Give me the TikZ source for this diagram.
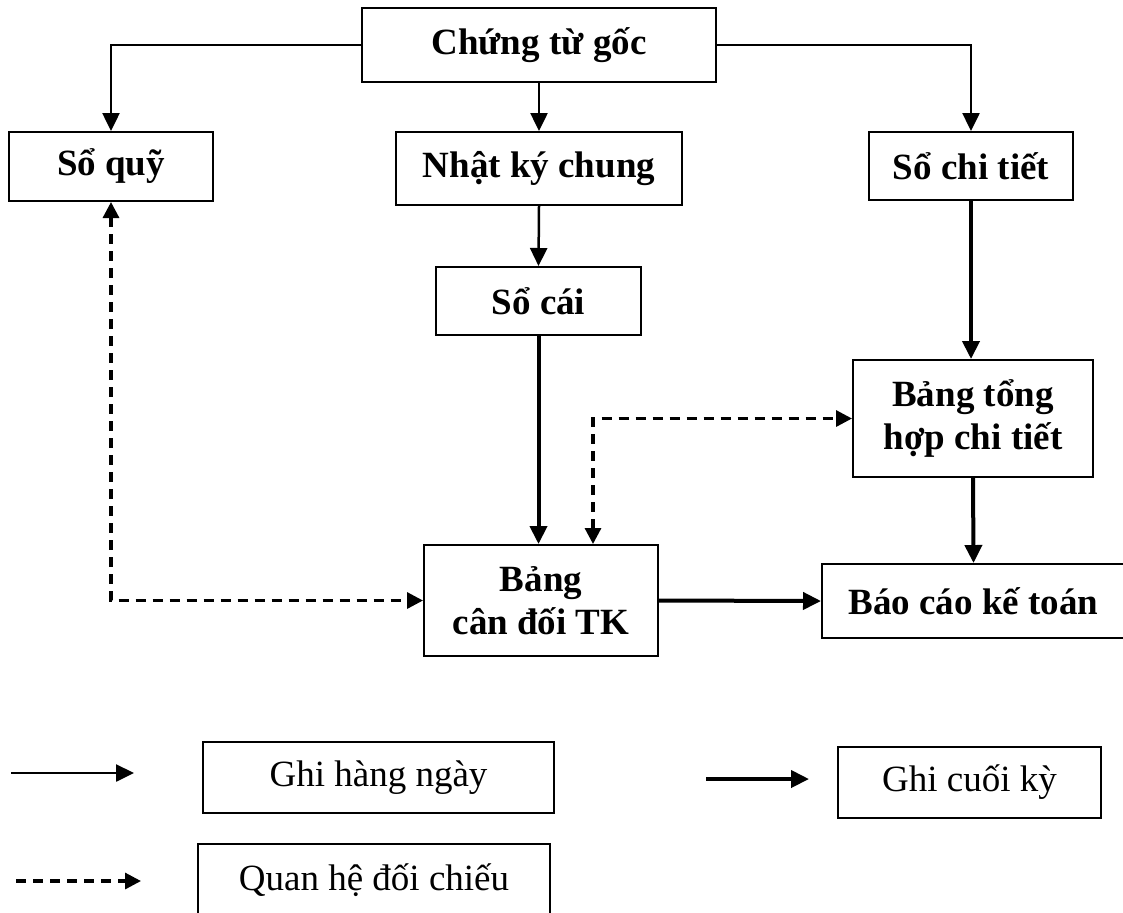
\documentclass[tikz,border=0pt]{standalone}
\usepackage{fontspec}
\setmainfont{Liberation Serif}
\usetikzlibrary{arrows.meta, positioning, calc}

\tikzset{
  box/.style={draw, line width=1pt, inner sep=0pt, align=center,
    font=\fontsize{18.5}{21.5}\selectfont\bfseries},
  keybox/.style={draw, line width=0.6pt, inner sep=0pt,
    font=\fontsize{18.5}{21.5}\selectfont},
  daily/.style={line width=1.25pt, -{Triangle[length=9pt, width=8.5pt]}},
  final/.style={line width=2pt, -{Triangle[length=9pt, width=8.5pt]}},
  check/.style={line width=1.6pt, dash pattern=on 5pt off 3.5pt,
    {Triangle[length=8pt, width=8pt]}-{Triangle[length=8pt, width=8pt]}},
}

\begin{document}
\begin{tikzpicture}[x=0.5pt, y=-0.5pt]
  \useasboundingbox (0,0) rectangle (1123,912);
  \clip (0,0) rectangle (1123,912);

  % Books
  \node[box, minimum width=177pt, minimum height=37pt] (goc) at (539,45) {Chứng từ gốc};
  \node[box, minimum width=102pt, minimum height=34.5pt] (quy) at (111,166.5) {Sổ quỹ};
  \node[box, minimum width=143pt, minimum height=36.5pt] (nkc) at (539,168.5) {Nhật ký chung};
  \node[box, minimum width=102pt, minimum height=34pt] (sct) at (971,166) {Sổ chi tiết};
  \node[box, minimum width=102.5pt, minimum height=34pt] (cai) at (538.5,301) {Sổ cái};
  \node[box, minimum width=120pt, minimum height=58.5pt] (bth) at (973,418.5) {Bảng tổng\\hợp chi tiết};
  \node[box, minimum width=117pt, minimum height=55.5pt] (bcd) at (541,600.5) {Bảng\\cân đối TK};
  \node[box, minimum width=151.5pt, minimum height=37pt] (bckt) at (973.5,601) {Báo cáo kế toán};

  % Daily entries
  \draw[daily] (goc.west) -| (quy.north);
  \draw[daily] (goc.south) -- (nkc.north);
  \draw[daily] (goc.east) -| (sct.north);
  \draw[daily] (nkc.south) -- (cai.north);

  % End of period
  \draw[final] (cai.south) -- (cai.south |- bcd.north);
  \draw[final] (sct.south) -- (sct.south |- bth.north);
  \draw[final] (bth.south) -- (bckt.north);
  \draw[final] (bcd.east) -- (bckt.west);

  % Cross checks
  \draw[check] (quy.south) |- (bcd.west);
  \draw[check] ([xshift=26pt]bcd.north) |- (bth.west);

  % Legend
  \coordinate (k1a) at (11,773);
  \coordinate (k1b) at (134,773);
  \coordinate (k2a) at (706,779);
  \coordinate (k2b) at (809,779);
  \coordinate (k3a) at (16,881);
  \coordinate (k3b) at (141,881);
  \draw[daily] (k1a) -- (k1b);
  \draw[final] (k2a) -- (k2b);
  \draw[check, -{Triangle[length=8pt, width=8pt]}] (k3a) -- (k3b);
  \node[keybox, minimum width=175.5pt, minimum height=35.5pt] (k1) at (378.5,777.5) {Ghi hàng ngày};
  \node[keybox, minimum width=131.5pt, minimum height=35.5pt] (k2) at (969.5,782.5) {Ghi cuối kỳ};
  \node[keybox, minimum width=176pt, minimum height=36pt] (k3) at (374,880) {Quan hệ đối chiếu};
\end{tikzpicture}
\end{document}
